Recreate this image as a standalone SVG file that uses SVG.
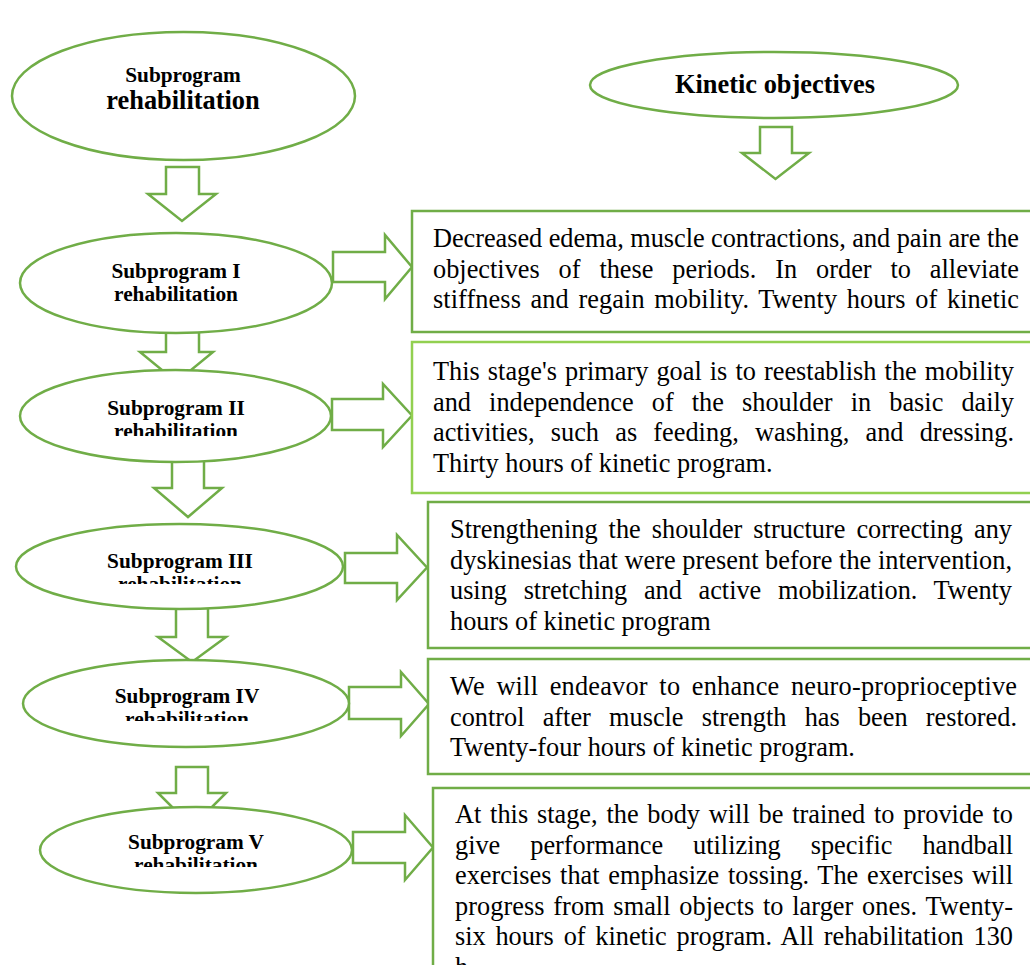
<svg xmlns="http://www.w3.org/2000/svg" width="1030" height="965" viewBox="0 0 1030 965">
<defs>
<style>
.ell{fill:#fff;stroke:#70AD47;stroke-width:2.5}
.box{fill:#fff;stroke:#70AD47;stroke-width:2.5}
.box2{fill:#fff;stroke:#92D050;stroke-width:2.5}
.arr{fill:#fff;stroke:#70AD47;stroke-width:2.5;stroke-linejoin:miter}
.t{font-family:"Liberation Serif","Times New Roman",serif;fill:#000}
.h{font-weight:bold;text-anchor:middle;font-size:21.3px}
.p{font-size:26.3px}
</style>
<clipPath id="c2"><rect x="0" y="380" width="360" height="56"/></clipPath>
<clipPath id="c3"><rect x="0" y="530" width="360" height="54"/></clipPath>
<clipPath id="c4"><rect x="0" y="665" width="360" height="56"/></clipPath>
<clipPath id="c5"><rect x="0" y="812" width="360" height="55"/></clipPath>
</defs>
<rect width="1030" height="965" fill="#fff"/>

<g id="connectors">
<polygon class="arr" points="166,167 199,167 199,194 216,194 182,221 148,194 166,194"/>
<polygon class="arr" points="166,324 199,324 199,352 213,352 176.5,382 140,352 166,352"/>
<polygon class="arr" points="760,127 792,127 792,153 809,153 775.5,179 742,153 760,153"/>
<polygon class="arr" points="172,460 204,460 204,488 222,488 188,517 154,488 172,488"/>
<polygon class="arr" points="176,608 208,608 208,637 226,637 192,662 158,637 176,637"/>
<polygon class="arr" points="176,767 208,767 208,793 226,793 192,827 158,793 176,793"/>
<polygon class="arr" points="333,252 385,252 385,235 412,267 385,299 385,282 333,282"/>
<polygon class="arr" points="332,399 383,399 383,384 412,415.5 383,447 383,430 332,430"/>
<polygon class="arr" points="345,553 397,553 397,535 427,567.5 397,600 397,583 345,583"/>
<polygon class="arr" points="349,687 401,687 401,672 429,704 401,736 401,719 349,719"/>
<polygon class="arr" points="353,832 405,832 405,815 433,847.5 405,880 405,863 353,863"/>
</g>

<g id="node-main">
<ellipse class="ell" cx="183.5" cy="96" rx="171.5" ry="64"/>
<text class="t" font-weight="bold" text-anchor="middle" x="183" y="81.5" font-size="21.3">Subprogram</text>
<text class="t" font-weight="bold" text-anchor="middle" x="183" y="109" font-size="26.4">rehabilitation</text>
</g>

<g id="node-kinetic">
<ellipse class="ell" cx="774" cy="85" rx="184" ry="33"/>
<text class="t" font-weight="bold" text-anchor="middle" x="775" y="93" font-size="26.4">Kinetic objectives</text>
</g>

<g id="node-sub1">
<ellipse class="ell" cx="176" cy="283" rx="156" ry="50"/>
<text class="t h" x="176" y="278">Subprogram I</text>
<text class="t h" x="176" y="301">rehabilitation</text>
</g>

<g id="node-sub2">
<ellipse class="ell" cx="175.5" cy="416" rx="155.5" ry="46"/>
<text class="t h" x="176" y="415">Subprogram II</text>
<text class="t h" x="176" y="438" clip-path="url(#c2)">rehabilitation</text>
</g>

<g id="node-sub3">
<ellipse class="ell" cx="179.5" cy="566.5" rx="163.5" ry="42.5"/>
<text class="t h" x="180" y="568">Subprogram III</text>
<text class="t h" x="180" y="591" clip-path="url(#c3)">rehabilitation</text>
</g>

<g id="node-sub4">
<ellipse class="ell" cx="186" cy="703.5" rx="163" ry="43.5"/>
<text class="t h" x="187" y="703">Subprogram IV</text>
<text class="t h" x="187" y="726" clip-path="url(#c4)">rehabilitation</text>
</g>

<g id="node-sub5">
<ellipse class="ell" cx="196" cy="850" rx="156" ry="43"/>
<text class="t h" x="196" y="849">Subprogram V</text>
<text class="t h" x="196" y="872" clip-path="url(#c5)">rehabilitation</text>
</g>

<g id="box-1">
<rect class="box" x="412" y="211" width="640" height="121"/>
<text class="t p" x="433" y="247" textLength="586" lengthAdjust="spacing">Decreased edema, muscle contractions, and pain are the</text>
<text class="t p" x="433" y="277.5" word-spacing="12.3" textLength="586" lengthAdjust="spacing">objectives of these periods. In order to alleviate</text>
<text class="t p" x="433" y="308" word-spacing="2.9" textLength="586" lengthAdjust="spacing">stiffness and regain mobility. Twenty hours of kinetic</text>
</g>

<g id="box-2">
<rect class="box2" x="412" y="342" width="640" height="151"/>
<text class="t p" x="433" y="380" word-spacing="1.5" textLength="581" lengthAdjust="spacing">This stage's primary goal is to reestablish the mobility</text>
<text class="t p" x="433" y="410.5" word-spacing="11.5" textLength="581" lengthAdjust="spacing">and independence of the shoulder in basic daily</text>
<text class="t p" x="433" y="441" word-spacing="9.6" textLength="581" lengthAdjust="spacing">activities, such as feeding, washing, and dressing.</text>
<text class="t p" x="433" y="471.5">Thirty hours of kinetic program.</text>
</g>

<g id="box-3">
<rect class="box" x="428" y="502" width="620" height="146"/>
<text class="t p" x="450" y="538" word-spacing="4.4" textLength="562" lengthAdjust="spacing">Strengthening the shoulder structure correcting any</text>
<text class="t p" x="450" y="568.5" textLength="562" lengthAdjust="spacing">dyskinesias that were present before the intervention,</text>
<text class="t p" x="450" y="599" word-spacing="10.1" textLength="562" lengthAdjust="spacing">using stretching and active mobilization. Twenty</text>
<text class="t p" x="450" y="629.5">hours of kinetic program</text>
</g>

<g id="box-4">
<rect class="box" x="428" y="659" width="620" height="115"/>
<text class="t p" x="450" y="695" word-spacing="4.8" textLength="567" lengthAdjust="spacing">We will endeavor to enhance neuro-proprioceptive</text>
<text class="t p" x="450" y="725.5" word-spacing="11.6" textLength="567" lengthAdjust="spacing">control after muscle strength has been restored.</text>
<text class="t p" x="450" y="756">Twenty-four hours of kinetic program.</text>
</g>

<g id="box-5">
<rect class="box" x="433" y="788" width="620" height="200"/>
<text class="t p" x="455" y="823" word-spacing="2.2" textLength="558" lengthAdjust="spacing">At this stage, the body will be trained to provide to</text>
<text class="t p" x="455" y="853.5" word-spacing="23.4" textLength="558" lengthAdjust="spacing">give performance utilizing specific handball</text>
<text class="t p" x="455" y="884" word-spacing="2.1" textLength="558" lengthAdjust="spacing">exercises that emphasize tossing. The exercises will</text>
<text class="t p" x="455" y="914.5" word-spacing="2.1" textLength="558" lengthAdjust="spacing">progress from small objects to larger ones. Twenty-</text>
<text class="t p" x="455" y="945" word-spacing="3.3" textLength="558" lengthAdjust="spacing">six hours of kinetic program. All rehabilitation 130</text>
<text class="t p" x="455" y="975.5">h</text>
</g>
</svg>
